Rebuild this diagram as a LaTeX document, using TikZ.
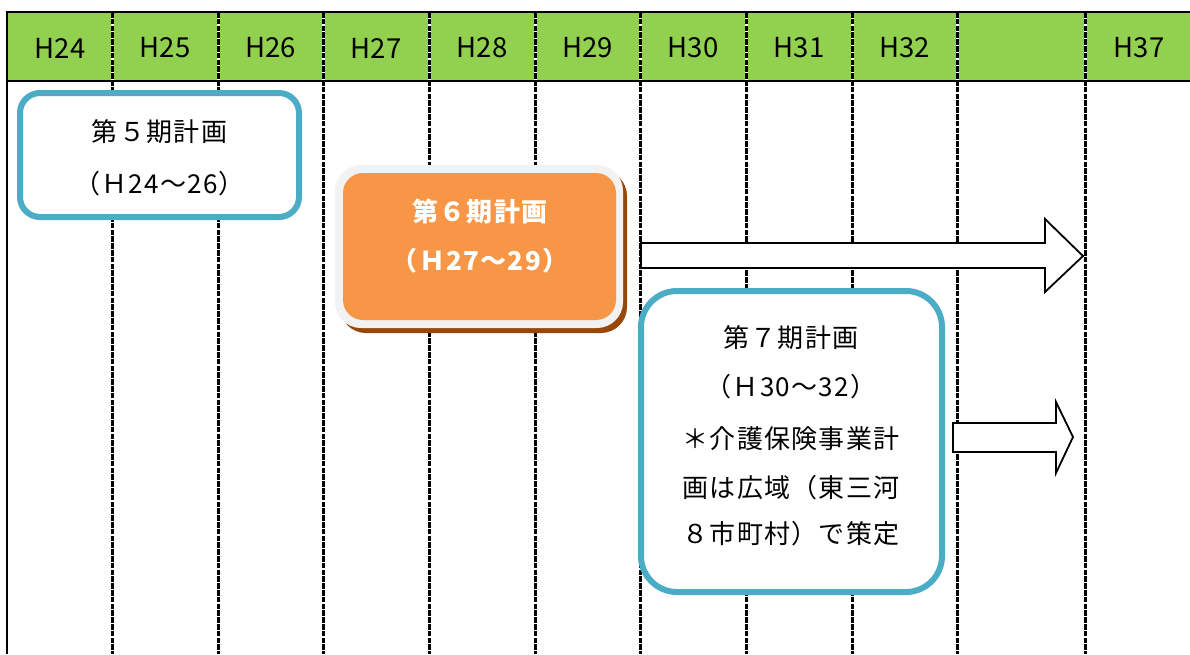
\documentclass[tikz,border=0pt]{standalone}
\usepackage{fontspec}
\setmainfont{Noto Sans CJK JP}
\newfontfamily\jpfont[LetterSpace=5]{Noto Sans CJK JP}
\definecolor{hdrgreen}{HTML}{92D050}
\definecolor{teal}{HTML}{4BACC6}
\definecolor{orangefill}{HTML}{F79646}
\definecolor{orangeshadow}{HTML}{974706}
\definecolor{lightrim}{HTML}{F2F2F2}
\tikzset{
  gridline/.style={line width=3pt, dash pattern=on 5.5pt off 1.3pt},
  hdrtext/.style={font=\fontsize{27.5}{30}\selectfont, anchor=center, inner sep=0pt},
  boxtext/.style={font=\jpfont\fontsize{26}{30}\selectfont, anchor=center, inner sep=0pt},
  whitetext/.style={font=\jpfont\bfseries\fontsize{26}{30}\selectfont, text=white, anchor=center, inner sep=0pt},
  planbox/.style={draw=teal, line width=6pt, fill=white},
  blockarrow/.style={draw=black, line width=1.8pt, fill=white, line join=miter},
}
\begin{document}
\begin{tikzpicture}[x=1pt, y=-1pt]
\useasboundingbox (0,0) rectangle (1190,654);
\fill[white] (0,0) rectangle (1190,654);
% header
\fill[hdrgreen] (7,12) rectangle (1190,81);
% grid lines
\foreach \x in {112,218,323,429,535,640,746,852,957,1085}{
  \draw[white, line width=3pt] (\x,12) -- (\x,654);
  \draw[gridline] (\x,12) -- (\x,654);
}
\draw[line width=2.6pt] (7,12) -- (1190,12);
\draw[line width=2.6pt] (7,81) -- (1190,81);
\draw[line width=2.6pt] (7,10.7) -- (7,654);
% header labels
\node[hdrtext] (h24) at (60,48) {H24};
\node[hdrtext] (h25) at (165,48) {H25};
\node[hdrtext] (h26) at (270.5,48) {H26};
\node[hdrtext] (h27) at (376,48) {H27};
\node[hdrtext] (h28) at (482,48) {H28};
\node[hdrtext] (h29) at (587.5,48) {H29};
\node[hdrtext] (h30) at (693,48) {H30};
\node[hdrtext] (h31) at (799,48) {H31};
\node[hdrtext] (h32) at (904.5,48) {H32};
\node[hdrtext] (h37) at (1139,48) {H37};
% plan 5
\draw[planbox, rounded corners=20pt] (20,93) rectangle (299,217);
\node[boxtext] (p5a) at (159.5,132) {第５期計画};
\node[boxtext] (p5b) at (159.5,184) {（Ｈ24～26）};
% plan 6
\fill[orangeshadow, rounded corners=26pt] (340,170) rectangle (627,333);
\fill[lightrim, rounded corners=26pt] (335,165) rectangle (623,328);
\fill[orangefill, rounded corners=20pt] (343,173) rectangle (616,320);
\node[whitetext] (p6a) at (480,212) {第６期計画};
\node[whitetext] (p6b) at (480,261) {（Ｈ27～29）};
% big arrow
\draw[blockarrow] (641,243) -- (1045,243) -- (1045,219) -- (1083,256) -- (1045,292) -- (1045,268) -- (641,268) -- cycle;
% plan 7
\draw[planbox, rounded corners=36pt] (641,291) rectangle (942,592);
\node[boxtext] (p7a) at (791,338) {第７期計画};
\node[boxtext] (p7b) at (791,387) {（Ｈ30～32）};
\node[boxtext] (p7c) at (791,439) {＊介護保険事業計};
\node[boxtext] (p7d) at (791,488) {画は広域（東三河};
\node[boxtext] (p7e) at (791,534) {８市町村）で策定};
% small arrow
\draw[blockarrow] (953,423) -- (1056,423) -- (1056,402) -- (1073,437) -- (1056,473) -- (1056,452) -- (953,452) -- cycle;
\end{tikzpicture}
\end{document}
